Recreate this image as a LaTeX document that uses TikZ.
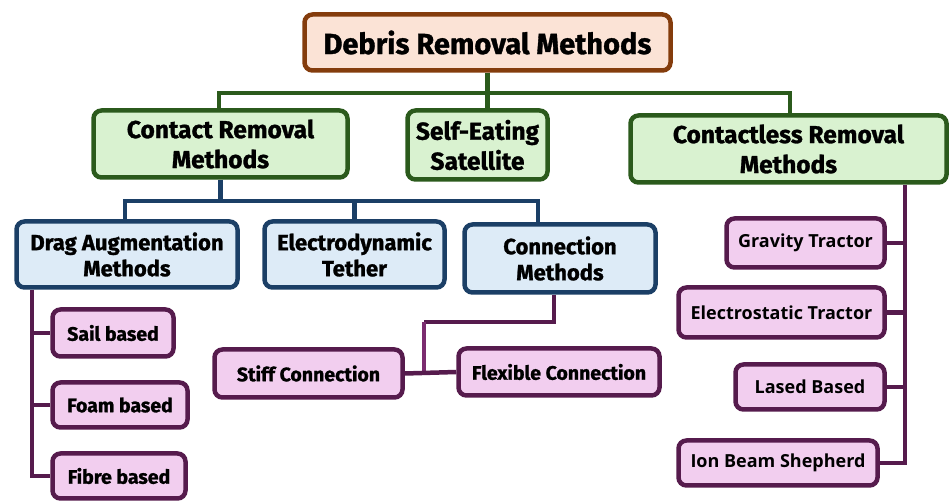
\documentclass[tikz,border=0pt]{standalone}
\usepackage{fontspec}
\setmainfont{Fira Sans}[BoldFeatures={FakeBold=1.2}]
\newfontfamily\widefont{Open Sans}
\definecolor{rootfill}{HTML}{FBE3D6}
\definecolor{rootdraw}{HTML}{843C0C}
\definecolor{gfill}{HTML}{D9F2D0}
\definecolor{gdraw}{HTML}{2B5A1C}
\definecolor{bfill}{HTML}{DDEBF7}
\definecolor{bdraw}{HTML}{1B3F66}
\definecolor{pfill}{HTML}{F2CEEF}
\definecolor{pdraw}{HTML}{561B4D}
\definecolor{pmid}{HTML}{7B2C6F}
\tikzset{
  box/.style={rounded corners=8pt, line width=4.5pt, align=center, inner sep=0pt, text=black, font=\bfseries},
  rootbox/.style={box, fill=rootfill, draw=rootdraw, font=\fontsize{29}{32}\selectfont\bfseries},
  gbox/.style={box, fill=gfill, draw=gdraw, font=\fontsize{24.5}{30}\selectfont\bfseries},
  bbox/.style={box, fill=bfill, draw=bdraw, font=\fontsize{22}{26}\selectfont\bfseries},
  pbox/.style={box, fill=pfill, draw=pdraw, font=\fontsize{19.5}{22}\selectfont\bfseries},
  rbox/.style={box, fill=pfill, draw=pdraw, font=\widefont\fontsize{18}{20}\selectfont\bfseries},
  gline/.style={draw=gdraw, line width=4.5pt},
  bline/.style={draw=bdraw, line width=4.5pt},
  pline/.style={draw=pdraw, line width=4.5pt},
}
\begin{document}
\begin{tikzpicture}[x=1pt,y=-1pt]
\useasboundingbox (0,0) rectangle (951,502);
% connector coordinates
\coordinate (gL) at (219,93);
\coordinate (gR) at (790,93);
\coordinate (bL) at (125,201);
\coordinate (bR) at (538,201);
\coordinate (pv) at (32,300);
\coordinate (cv) at (554,322);
\coordinate (cm) at (424,322);
\coordinate (rv) at (905,200);
% nodes
\node[rootbox, minimum width=366pt, minimum height=56pt] (root) at (487.5,42.5) {Debris Removal Methods};
\node[gbox, minimum width=254pt, minimum height=67pt] (contact) at (220.5,144) {Contact Removal\\Methods};
\node[gbox, minimum width=140pt, minimum height=69pt] (self) at (477.5,145) {Self-Eating\\Satellite};
\node[gbox, minimum width=316pt, minimum height=67pt] (contactless) at (788.5,149) {Contactless Removal\\Methods};
\node[bbox, minimum width=221pt, minimum height=66pt] (drag) at (127,254.5) {Drag Augmentation\\Methods};
\node[bbox, minimum width=180pt, minimum height=66pt] (edt) at (354.5,254.5) {Electrodynamic\\Tether};
\node[bbox, minimum width=191pt, minimum height=68pt] (conn) at (560,258.5) {Connection\\Methods};
\node[pbox, minimum width=121pt, minimum height=47pt] (sail) at (113,333) {Sail based};
\node[pbox, minimum width=135pt, minimum height=45pt] (foam) at (120,405) {Foam based};
\node[pbox, minimum width=133pt, minimum height=45pt] (fibre) at (119,476) {Fibre based};
\node[pbox, minimum width=188pt, minimum height=48pt] (stiff) at (308.5,373.5) {Stiff Connection};
\node[pbox, minimum width=201pt, minimum height=47pt] (flex) at (559,372) {Flexible Connection};
\node[rbox, minimum width=158pt, minimum height=49pt] (grav) at (805.5,243) {Gravity Tractor};
\node[rbox, minimum width=206pt, minimum height=50pt] (elec) at (781.5,312.5) {Electrostatic Tractor};
\node[rbox, minimum width=149pt, minimum height=45pt] (lased) at (810,387) {Lased Based};
\node[rbox, minimum width=199pt, minimum height=45pt] (ion) at (778,463) {Ion Beam Shepherd};
% green connectors
\draw[gline] (root.south) -- (self.north -| root.south);
\draw[gline] (contact.north -| gL) -- (gL) -- (gR) -- (contactless.north -| gR);
% blue connectors
\draw[bline] (contact.south) -- (contact.south |- bL);
\draw[bline] (drag.north -| bL) -- (bL) -- (bR) -- (conn.north -| bR);
\draw[bline] (edt.north) -- (edt.north |- bL);
% purple drag connectors
\draw[pline] (drag.south -| pv) -- (pv |- fibre.west) -- (fibre.west);
\draw[pline] (pv |- sail.west) -- (sail.west);
\draw[pline] (pv |- foam.west) -- (foam.west);
% connection methods
\draw[pline] (conn.south -| cv) -- (cv) -- (cm);
\draw[draw=pmid, line width=4.5pt] (cm) -- (cm |- stiff.east);
\draw[pline] (stiff.east) -- (flex.west);
% contactless
\draw[pline] (contactless.south -| rv) -- (rv |- ion.east) -- (ion.east);
\draw[pline] (grav.east) -- (grav.east -| rv);
\draw[pline] (elec.east) -- (elec.east -| rv);
\draw[pline] (lased.east) -- (lased.east -| rv);
\end{tikzpicture}
\end{document}
